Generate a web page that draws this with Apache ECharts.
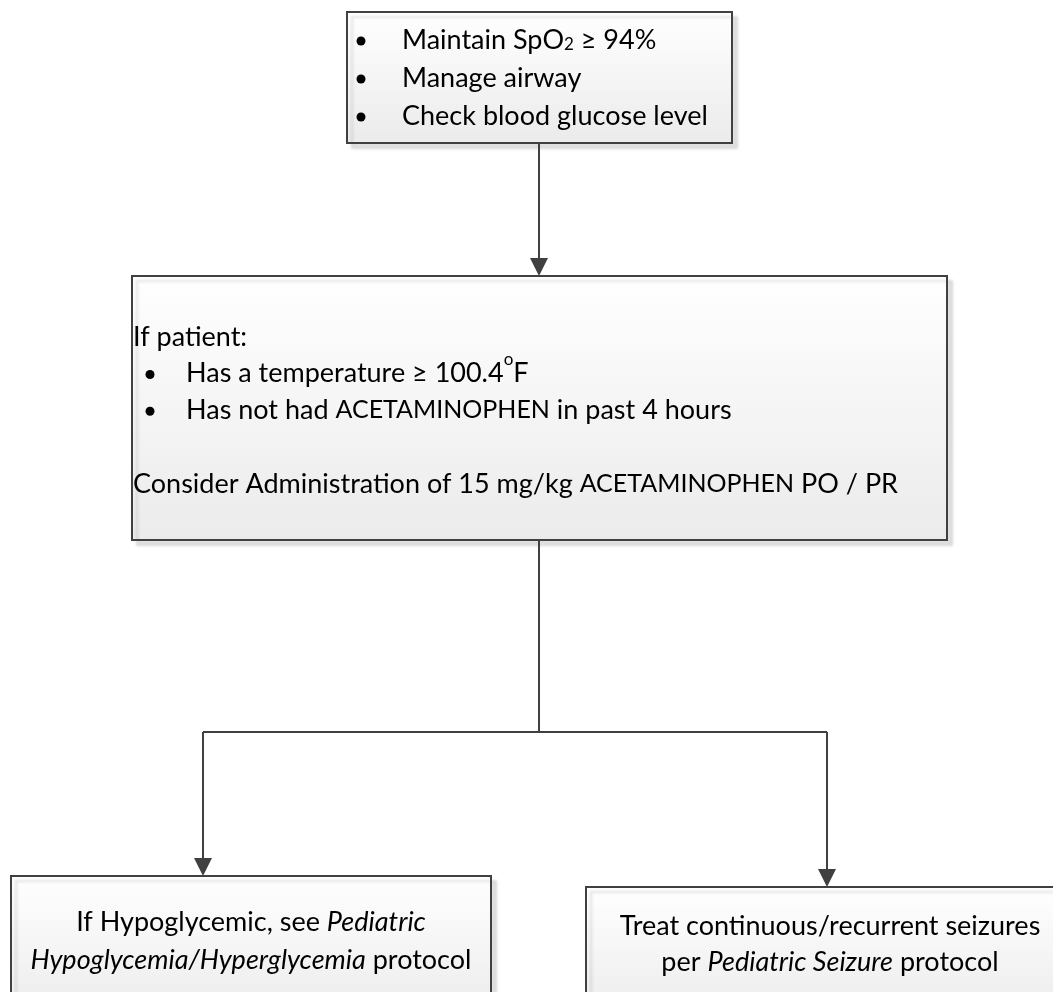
<!DOCTYPE html>
<html>
<head>
<meta charset="utf-8">
<script src="https://cdn.jsdelivr.net/npm/echarts@6/dist/echarts.min.js"></script>
<style>
  html, body { margin: 0; padding: 0; background: #fff; }
  #chart { width: 1053px; height: 992px; }
</style>
</head>
<body>
<div id="chart"></div>
<script>
  // box texts
  const topItems = ['Maintain SpO{sub|2} ≥ 94%', 'Manage airway', 'Check blood glucose level']
  const midIntro = 'If patient:'
  const midItems = ['Has a temperature ≥ 100.4{sup|o}F', 'Has not had {c|ACETAMINOPHEN} in past 4 hours']
  const midAction = 'Consider Administration of 15 mg/kg {c|ACETAMINOPHEN} PO / PR'
  const leftOutcome = ['If Hypoglycemic, see {i|Pediatric}', '{i|Hypoglycemia/Hyperglycemia} protocol']
  const rightOutcome = ['Treat continuous/recurrent seizures', 'per {i|Pediatric Seizure} protocol']

  // layout (axis units = pixels of the page)
  const boxRects = [[347, 12, 732, 143], [132, 276, 947, 540], [11, 876, 491, 1020], [586, 887, 1080, 1020]]
  const connectors = [
    [539, 143, 539, 276, 1],
    [539, 540, 539, 732, 0],
    [203, 732, 827, 732, 0],
    [203, 732, 203, 876, 1],
    [827, 732, 827, 887, 1]
  ]

  const FONT = 'Lato, "Open Sans", sans-serif'
  const SIZE = 27
  const lineColor = '#404040'

  // build text entries: [x, y, text, align]
  let texts = []
  let bullets = []
  topItems.forEach((t, i) => {
    texts.push([402, 40 + 38 * i, t, 'left'])
    bullets.push([361, 41 + 38 * i])
  })
  texts.push([133, 337, midIntro, 'left'])
  midItems.forEach((t, i) => {
    texts.push([186, 373.5 + 36.8 * i, t, 'left'])
    bullets.push([150, 374.5 + 36.8 * i])
  })
  texts.push([133, 484, midAction, 'left'])
  leftOutcome.forEach((t, i) => texts.push([251, 922 + 38 * i, t, 'center']))
  rightOutcome.forEach((t, i) => texts.push([830, 926 + 36 * i, t, 'center']))

  const rich = {
    i: { fontFamily: FONT, fontSize: SIZE, fontStyle: 'italic', fill: '#000' },
    c: { fontFamily: FONT, fontSize: 25, fill: '#000' },
    sub: { fontFamily: FONT, fontSize: 17, verticalAlign: 'bottom', lineHeight: 24, fill: '#000' },
    sup: { fontFamily: FONT, fontSize: 17, verticalAlign: 'top', lineHeight: 44, fill: '#000' }
  }

  let myChart = echarts.init(document.getElementById('chart'))
  let option = {
    animation: false,
    grid: { left: 0, right: 0, top: 0, bottom: 0 },
    xAxis: { type: 'value', min: 0, max: 1053, show: false },
    yAxis: { type: 'value', min: 0, max: 992, inverse: true, show: false },
    series: [
      {
        type: 'custom',
        name: 'boxes',
        data: boxRects,
        renderItem: (params, api) => {
          let a = api.coord([api.value(0), api.value(1)])
          let b = api.coord([api.value(2), api.value(3)])
          return {
            type: 'rect',
            shape: { x: a[0], y: a[1], width: b[0] - a[0], height: b[1] - a[1] },
            style: {
              fill: new echarts.graphic.LinearGradient(0, 0, 0, 1, [
                { offset: 0, color: '#ffffff' },
                { offset: 1, color: '#ebebeb' }
              ]),
              stroke: lineColor,
              lineWidth: 2,
              shadowColor: 'rgba(0,0,0,0.12)',
              shadowBlur: 3,
              shadowOffsetX: 5,
              shadowOffsetY: 5
            }
          }
        }
      },
      {
        type: 'custom',
        name: 'connectors',
        data: connectors,
        z: 3,
        renderItem: (params, api) => {
          let a = api.coord([api.value(0), api.value(1)])
          let b = api.coord([api.value(2), api.value(3)])
          let arrow = api.value(4)
          let children = []
          let end = arrow ? [b[0], b[1] - 16] : b
          children.push({
            type: 'line',
            shape: { x1: a[0], y1: a[1], x2: end[0], y2: end[1] },
            style: { stroke: lineColor, lineWidth: 2 }
          })
          if (arrow) {
            children.push({
              type: 'polygon',
              shape: { points: [[b[0] - 9, b[1] - 18], [b[0] + 9, b[1] - 18], [b[0], b[1]]] },
              style: { fill: lineColor }
            })
          }
          return { type: 'group', children: children }
        }
      },
      {
        type: 'custom',
        name: 'bullets',
        data: bullets,
        z: 4,
        renderItem: (params, api) => {
          let p = api.coord([api.value(0), api.value(1)])
          return { type: 'circle', shape: { cx: p[0], cy: p[1], r: 4.5 }, style: { fill: '#000' } }
        }
      },
      {
        type: 'custom',
        name: 'texts',
        data: texts.map(t => [t[0], t[1]]),
        z: 5,
        renderItem: (params, api) => {
          let t = texts[params.dataIndex]
          let p = api.coord([t[0], t[1]])
          return {
            type: 'text',
            x: p[0],
            y: p[1],
            style: {
              text: t[2],
              fontFamily: FONT,
              fontSize: SIZE,
              fill: '#000',
              align: t[3],
              verticalAlign: 'middle',
              rich: rich
            }
          }
        }
      }
    ]
  }
  myChart.setOption(option)
</script>
</body>
</html>
